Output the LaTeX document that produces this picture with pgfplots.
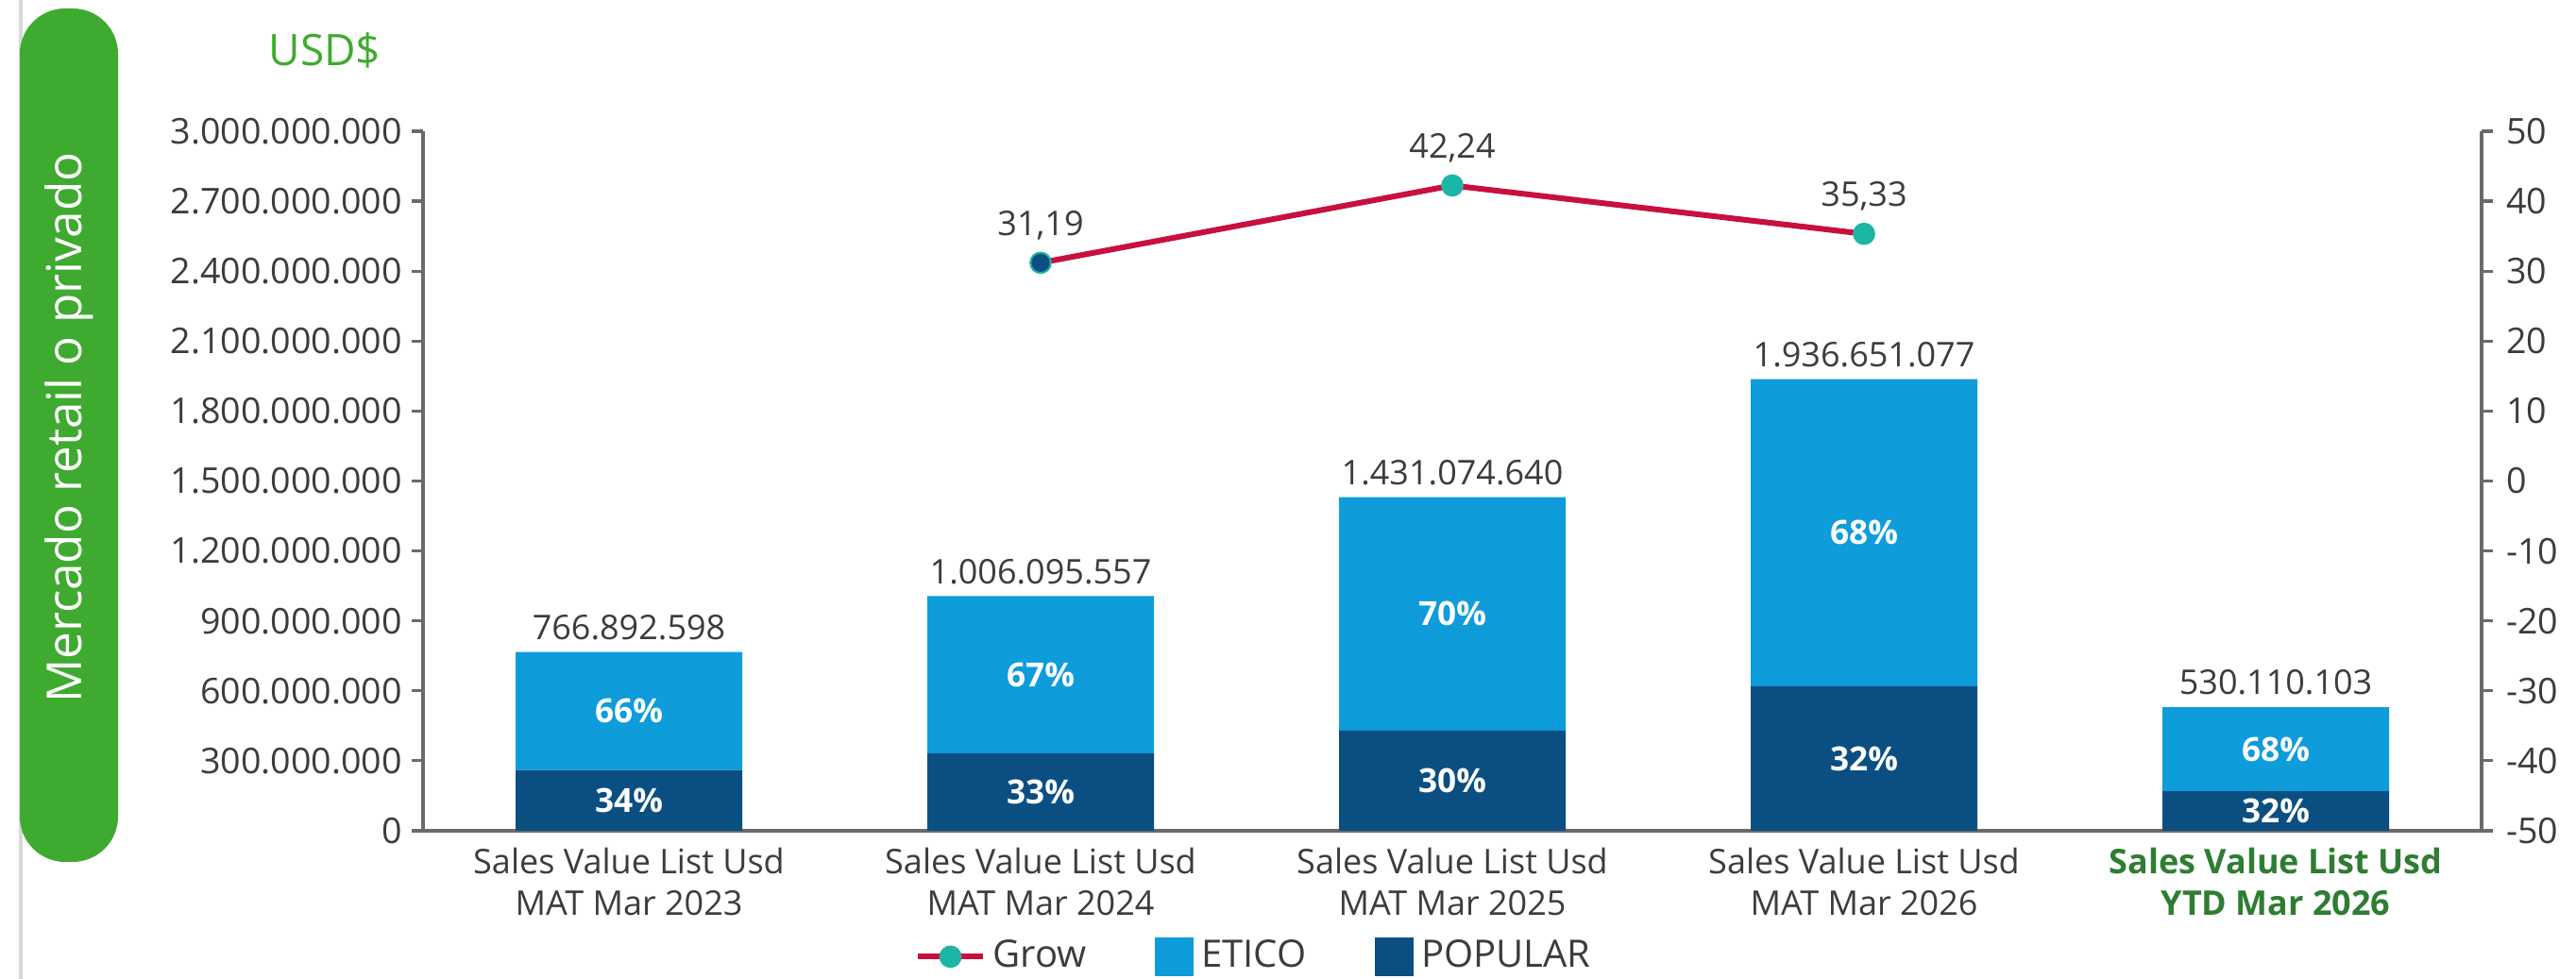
\documentclass[border=0pt]{standalone}
\usepackage{fontspec}
\setmainfont{Open Sans}
\usepackage{pgfplots}
\pgfplotsset{compat=1.18}
\definecolor{etico}{HTML}{0E9CDB}
\definecolor{popular}{HTML}{0B4F82}
\definecolor{growc}{HTML}{C8103E}
\definecolor{growmk}{HTML}{1DB5A6}
\definecolor{greenlab}{HTML}{3FAA30}
\definecolor{ytdgreen}{HTML}{2E7D32}
\definecolor{txt}{HTML}{3C3C3C}
\definecolor{axc}{HTML}{6A6A6A}
\begin{document}
\begin{tikzpicture}
\path[use as bounding box] (0,0) rectangle (682pt,259.25pt);
\draw[black!15, line width=0.8pt] (5.5pt,0) -- (5.5pt,259.25pt);
\fill[greenlab, rounded corners=12pt] (5.25pt,31pt) rectangle (31.25pt,257pt);
\node[rotate=90, white, font=\fontsize{12.8}{15}\selectfont] at (18.25pt,146pt) {Mercado retail o privado};
\node[greenlab, font=\fontsize{11.5}{13}\selectfont] at (86pt,246pt) {USD\$};

% bars
\begin{axis}[
  at={(112pt,39.25pt)}, anchor=south west,
  scale only axis, width=545pt, height=185.25pt,
  xmin=-0.5, xmax=4.5, ymin=0, ymax=3000000000,
  scaled y ticks=false,
  ybar stacked, bar width=60pt,
  axis y line*=left, axis x line*=bottom,
  axis line style={axc, line width=0.8pt},
  tick align=outside, major tick length=3pt,
  tick style={axc, line width=0.8pt},
  ytick={0,300000000,600000000,900000000,1200000000,1500000000,1800000000,2100000000,2400000000,2700000000,3000000000},
  yticklabels={0,300.000.000,600.000.000,900.000.000,1.200.000.000,1.500.000.000,1.800.000.000,2.100.000.000,2.400.000.000,2.700.000.000,3.000.000.000},
  yticklabel style={font=\fontsize{9.4}{11}\selectfont, text=txt, xshift=1pt},
  xtick={0,1,2,3,4},
  xtick style={draw=none},
  xticklabels={{Sales Value List Usd\\MAT Mar 2023},{Sales Value List Usd\\MAT Mar 2024},{Sales Value List Usd\\MAT Mar 2025},{Sales Value List Usd\\MAT Mar 2026},{\color{ytdgreen}\bfseries Sales Value List Usd\\\color{ytdgreen}\bfseries YTD Mar 2026}},
  xticklabel style={font=\fontsize{9}{11}\selectfont, text=txt, align=center, yshift=2pt},
]
\addplot[fill=popular, draw=none] coordinates {(0,260743483) (1,332011534) (2,429322392) (3,619728345) (4,169635233)};
\addplot[fill=etico, draw=none] coordinates {(0,506149115) (1,674084023) (2,1001752248) (3,1316922732) (4,360474870)};
\end{axis}

% labels overlay
\begin{axis}[
  at={(112pt,39.25pt)}, anchor=south west,
  scale only axis, width=545pt, height=185.25pt,
  xmin=-0.5, xmax=4.5, ymin=0, ymax=3000000000,
  hide axis, clip=false,
]
\addplot[draw=none, mark=none, nodes near coords, point meta=explicit symbolic,
  every node near coord/.style={anchor=center, text=white, font=\fontsize{8.8}{11}\selectfont\bfseries}]
  coordinates {(0,130371741)[34\%] (1,166005767)[33\%] (2,214661196)[30\%] (3,309864172)[32\%] (4,84817616)[32\%]};
\addplot[draw=none, mark=none, nodes near coords, point meta=explicit symbolic,
  every node near coord/.style={anchor=center, text=white, font=\fontsize{8.8}{11}\selectfont\bfseries}]
  coordinates {(0,513818041)[66\%] (1,669053545)[67\%] (2,930198516)[70\%] (3,1278189711)[68\%] (4,349872668)[68\%]};
\addplot[draw=none, mark=none, nodes near coords, point meta=explicit symbolic,
  every node near coord/.style={anchor=south, inner sep=1pt, yshift=2pt, text=txt, font=\fontsize{9}{11}\selectfont}]
  coordinates {(0,766892598)[766.892.598] (1,1006095557)[1.006.095.557] (2,1431074640)[1.431.074.640] (3,1936651077)[1.936.651.077] (4,530110103)[530.110.103]};
\end{axis}

% growth line
\begin{axis}[
  at={(112pt,39.25pt)}, anchor=south west,
  scale only axis, width=545pt, height=185.25pt,
  xmin=-0.5, xmax=4.5, ymin=-50, ymax=50,
  axis y line*=right, axis x line=none,
  axis line style={axc, line width=0.8pt},
  tick align=outside, major tick length=3pt,
  tick style={axc, line width=0.8pt},
  ytick={-50,-40,-30,-20,-10,0,10,20,30,40,50},
  yticklabels={-50,-40,-30,-20,-10,0,10,20,30,40,50},
  yticklabel style={font=\fontsize{9.4}{11}\selectfont, text=txt},
  clip=false,
  legend style={at={(0.405,-0.18)}, anchor=center, draw=none, fill=none,
    legend columns=3, font=\fontsize{10}{12}\selectfont, text=txt,
    /tikz/every even column/.append style={column sep=16pt}},
  legend cell align=left,
]
\addplot[growc, line width=1.5pt, mark=*, mark size=2.2pt, mark options={fill=growmk, draw=growmk},
  nodes near coords, point meta=explicit symbolic,
  every node near coord/.style={anchor=south, yshift=2pt, text=txt, font=\fontsize{9}{11}\selectfont}]
  coordinates {(1,31.19)[31,19] (2,42.24)[42,24] (3,35.33)[35,33]};
\addlegendentry{Grow}
\addlegendimage{legend image code/.code={\fill[etico] (0pt,-5pt) rectangle (10pt,5pt);}}
\addlegendentry{ETICO}
\addlegendimage{legend image code/.code={\fill[popular] (0pt,-5pt) rectangle (10pt,5pt);}}
\addlegendentry{POPULAR}
\addplot[forget plot, only marks, mark=*, mark size=2.2pt, mark options={fill=popular, draw=popular}]
  coordinates {(1,31.19)};
\end{axis}
\end{tikzpicture}
\end{document}
